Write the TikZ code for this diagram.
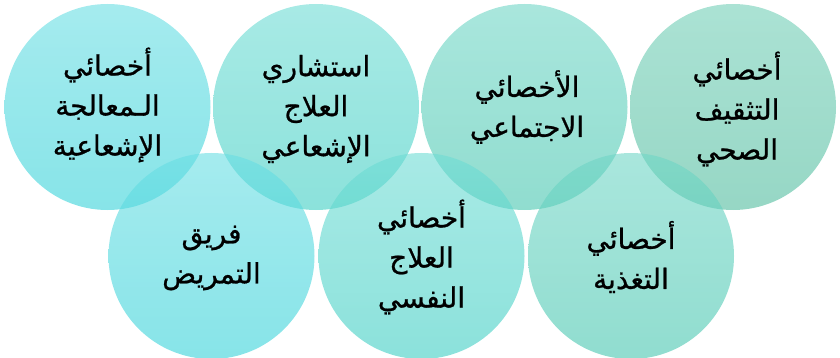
\documentclass[tikz,border=0pt]{standalone}
\usepackage{fontspec}
\TeXXeTstate=1
\newfontfamily\arabicfont[Script=Arabic,FakeBold=0.8]{DejaVu Sans}
\definecolor{cAt}{RGB}{105,222,227}
\definecolor{cAb}{RGB}{55,210,217}
\definecolor{cBt}{RGB}{110,220,212}
\definecolor{cBb}{RGB}{62,206,195}
\definecolor{cCt}{RGB}{112,214,198}
\definecolor{cCb}{RGB}{70,198,175}
\definecolor{cDt}{RGB}{115,207,183}
\definecolor{cDb}{RGB}{80,188,158}
\tikzset{
  disc/.style n args={2}{circle, minimum size=206pt, inner sep=0pt, draw=none,
     top color=#1, bottom color=#2, fill opacity=0.6},
  lbl/.style={align=center, text=black, inner sep=0pt,
     font=\arabicfont\fontsize{28}{40}\selectfont}
}
\begin{document}
\begin{tikzpicture}[x=1pt,y=-1pt]
\useasboundingbox (0,0) rectangle (840,358);
\node[disc={cAt}{cAb}] (c1) at (107.5,107) {};
\node[disc={cBt}{cBb}] (c2) at (316,107) {};
\node[disc={cCt}{cCb}] (c3) at (524.5,107) {};
\node[disc={cDt}{cDb}] (c4) at (733,107) {};
\node[disc={cAt}{cAb}] (c5) at (211.5,256) {};
\node[disc={cBt}{cBb}] (c6) at (421.5,256) {};
\node[disc={cCt}{cCb}] (c7) at (631,256) {};
\node[lbl] (t1) at (107.5,105) {\beginR أخصائي\endR\\\beginR الـمعالجة\endR\\\beginR الإشعاعية\endR};
\node[lbl] (t2) at (316,109) {\beginR استشاري\endR\\\beginR العلاج\endR\\\beginR الإشعاعي\endR};
\node[lbl] (t3) at (527,107) {\beginR الأخصائي\endR\\\beginR الاجتماعي\endR};
\node[lbl] (t4) at (737,109) {\beginR أخصائي\endR\\\beginR التثقيف\endR\\\beginR الصحي\endR};
\node[lbl] (t5) at (211.5,258) {\beginR فريق\endR\\\beginR التمريض\endR};
\node[lbl] (t6) at (421.5,257) {\beginR أخصائي\endR\\\beginR العلاج\endR\\\beginR النفسي\endR};
\node[lbl] (t7) at (631,257) {\beginR أخصائي\endR\\\beginR التغذية\endR};
\end{tikzpicture}
\end{document}
